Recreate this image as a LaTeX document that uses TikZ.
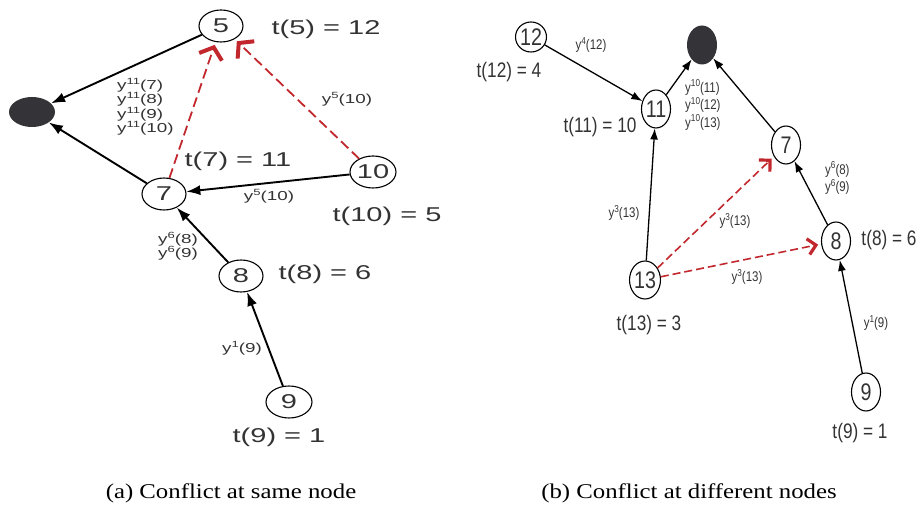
\documentclass[tikz,border=0pt]{standalone}
\usepackage{fontspec}
\setmainfont{Liberation Serif}
\newfontfamily\lfont[FakeStretch=1.45]{Liberation Sans}
\newfontfamily\rfont[FakeStretch=0.82]{Liberation Sans}
\newfontfamily\capfont[FakeStretch=1.18]{Liberation Serif}
\usetikzlibrary{shapes.geometric,arrows.meta}
\definecolor{txt}{HTML}{333333}
\definecolor{dred}{HTML}{C1272D}
\definecolor{blob}{HTML}{333338}
\newcommand\lsup[1]{\raisebox{5pt}{\fontsize{9}{9}\selectfont #1}}
\newcommand\rsup[1]{\raisebox{5.5pt}{\fontsize{10}{10}\selectfont #1}}
\tikzset{
  lnode/.style={ellipse, draw=black, line width=1.1pt, minimum width=44pt, minimum height=32pt, inner sep=0pt, text=txt, font=\lfont\fontsize{20}{22}\selectfont},
  rnode/.style={ellipse, draw=black, line width=1.1pt, minimum width=29pt, minimum height=38pt, inner sep=0pt, text=txt, font=\rfont\fontsize{24}{26}\selectfont},
  blobnode/.style={ellipse, fill=blob, draw=none, inner sep=0pt},
  lbig/.style={text=txt, inner sep=0pt, font=\lfont\fontsize{20}{22}\selectfont},
  lsmall/.style={text=txt, inner sep=0pt, align=left, font=\lfont\fontsize{13}{14.5}\selectfont},
  rbig/.style={text=txt, inner sep=0pt, font=\rfont\fontsize{21}{23}\selectfont},
  rsmall/.style={text=txt, inner sep=0pt, align=left, font=\rfont\fontsize{14}{17.5}\selectfont},
  capt/.style={inner sep=0pt, text=black, font=\capfont\fontsize{21}{23}\selectfont},
  ledge/.style={draw=black, line width=1.9pt, -{Latex[length=14pt,width=10pt]}},
  lred/.style={draw=dred, line width=1.8pt, dash pattern=on 10pt off 5pt, shorten >=3pt, -{Straight Barb[length=10pt,width=24pt,line width=4pt]}},
  redge/.style={draw=black, line width=1.3pt, -{Latex[length=11pt,width=8pt]}},
  rred/.style={draw=dred, line width=1.6pt, dash pattern=on 8pt off 4pt, shorten >=3pt, -{Straight Barb[length=8pt,width=16pt,line width=3.2pt]}},
}
\begin{document}
\begin{tikzpicture}[x=1pt,y=-1pt]
\useasboundingbox (0,0) rectangle (918,510);
% ---------- left panel ----------
\node[lnode] (a5) at (221,26) {5};
\node[lnode] (a7) at (164,194) {7};
\node[lnode, minimum width=46pt] (a10) at (373,172) {10};
\node[lnode] (a8) at (241,276) {8};
\node[lnode, minimum width=46pt] (a9) at (289,402) {9};
\node[blobnode, minimum width=46pt, minimum height=30pt] (ab) at (32,112) {};
\draw[ledge] (a5) -- (ab);
\draw[ledge] (a7) -- (ab);
\draw[ledge] (a10) -- (a7);
\draw[ledge] (a8) -- (a7);
\draw[ledge] (a9) -- (a8);
\draw[lred] (a7) -- (a5);
\draw[lred] (a10) -- (a5);
\node[lbig] (ta5) at (326,29) {t(5) = 12};
\node[lbig] (ta7) at (238,161) {t(7) = 11};
\node[lbig] (ta10) at (387,216) {t(10) = 5};
\node[lbig] (ta8) at (325,274) {t(8) = 6};
\node[lbig] (ta9) at (279,437) {t(9) = 1};
\node[lsmall, anchor=west] (ya) at (117,107) {y\lsup{11}(7)\\y\lsup{11}(8)\\y\lsup{11}(9)\\y\lsup{11}(10)};
\node[lsmall] (yb) at (347,99) {y\lsup{5}(10)};
\node[lsmall] (yc) at (269,196) {y\lsup{5}(10)};
\node[lsmall, anchor=west] (yd) at (158,246) {y\lsup{6}(8)\\y\lsup{6}(9)};
\node[lsmall] (ye) at (242,348) {y\lsup{1}(9)};
% ---------- right panel ----------
\node[rnode, minimum height=30pt, minimum width=30pt] (b12) at (531,37) {12};
\node[rnode] (b11) at (656,109) {11};
\node[rnode] (b7) at (786,145) {7};
\node[rnode] (b8) at (836,241) {8};
\node[rnode] (b13) at (645,280) {13};
\node[rnode] (b9) at (866,392) {9};
\node[blobnode, minimum width=30pt, minimum height=39pt] (bb) at (702,45) {};
\draw[redge] (b12) -- (b11);
\draw[redge] (b11) -- (bb);
\draw[redge] (b7) -- (bb);
\draw[redge] (b13) -- (b11);
\draw[redge] (b8) -- (b7);
\draw[redge] (b9) -- (b8);
\draw[rred] (b13) -- (b7);
\draw[rred] (b13) -- (b8);
\node[rbig] (tb12) at (509,72) {t(12) = 4};
\node[rbig] (tb11) at (600,127) {t(11) = 10};
\node[rbig] (tb8) at (889,240) {t(8) = 6};
\node[rbig] (tb13) at (649,325) {t(13) = 3};
\node[rbig] (tb9) at (860,433) {t(9) = 1};
\node[rsmall] (za) at (591,45) {y\rsup{4}(12)};
\node[rsmall, anchor=west] (zb) at (685,105) {y\rsup{10}(11)\\y\rsup{10}(12)\\y\rsup{10}(13)};
\node[rsmall, anchor=west] (zc) at (825,178) {y\rsup{6}(8)\\y\rsup{6}(9)};
\node[rsmall] (zd) at (624,213) {y\rsup{3}(13)};
\node[rsmall] (ze) at (735,221) {y\rsup{3}(13)};
\node[rsmall] (zf) at (747,277) {y\rsup{3}(13)};
\node[rsmall] (zg) at (876,323) {y\rsup{1}(9)};
% ---------- captions ----------
\node[capt] (ca) at (231,493) {(a) Conflict at same node};
\node[capt] (cb) at (689,493) {(b) Conflict at different nodes};
\end{tikzpicture}
\end{document}
